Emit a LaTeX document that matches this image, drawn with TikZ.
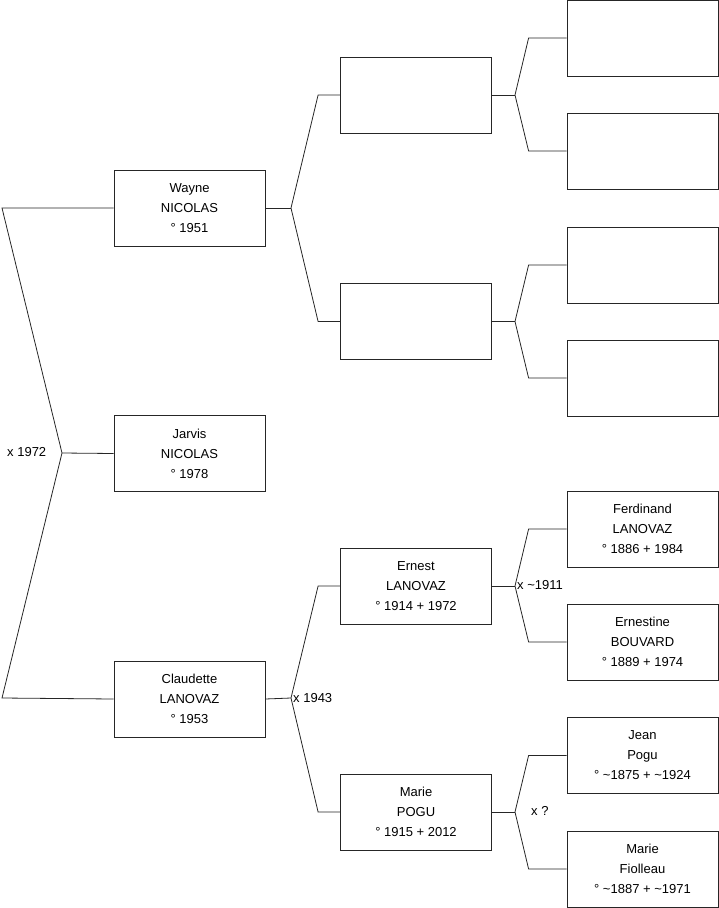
\documentclass[tikz,border=0pt]{standalone}
\usepackage{fontspec}
\setmainfont{Liberation Sans}
\usepackage{tikz}
\usetikzlibrary{calc}

\begin{document}
\begin{tikzpicture}[x=1pt,y=-1pt,
  person/.style={draw=black!85,line width=0.8pt,minimum width=151pt,minimum height=76pt,
    inner sep=0pt,align=center,font=\fontsize{13}{20}\selectfont},
  link/.style={line width=0.8pt,black!85},
  union/.style={anchor=west,inner sep=0pt,font=\fontsize{13}{14}\selectfont}]
  \useasboundingbox (0,0) rectangle (719,908);
  % generation 1
  \node[person] (wayne) at (189.5,208) {Wayne\\NICOLAS\\° 1951};
  \node[person] (jarvis) at (189.5,453.5) {Jarvis\\NICOLAS\\° 1978};
  \node[person] (claudette) at (189.5,699) {Claudette\\LANOVAZ\\° 1953};
  % generation 2
  \node[person] (fatherW) at (416,95) {};
  \node[person] (motherW) at (416,321.5) {};
  \node[person] (ernest) at (416,586) {Ernest\\LANOVAZ\\° 1914 + 1972};
  \node[person] (marie) at (416,812) {Marie\\POGU\\° 1915 + 2012};
  % generation 3
  \foreach \n/\y in {gfa/38,gfb/151,gfc/265,gfd/378}
    \node[person] (\n) at (642.5,\y) {};
  \node[person] (ferdinand) at (642.5,529) {Ferdinand\\LANOVAZ\\° 1886 + 1984};
  \node[person] (ernestine) at (642.5,642) {Ernestine\\BOUVARD\\° 1889 + 1974};
  \node[person] (jean) at (642.5,755.5) {Jean\\Pogu\\° \textasciitilde1875 + \textasciitilde1924};
  \node[person] (mariefio) at (642.5,869) {Marie\\Fiolleau\\° \textasciitilde1887 + \textasciitilde1971};
  % joints
  \coordinate (top0) at (2,208);
  \coordinate (bot0) at (2,698);
  \coordinate (j0) at (62,453);
  \coordinate (jW) at (291,208);
  \coordinate (jC) at (291,698);
  \foreach \c/\y in {jFW/95,jMW/321.5,jE/586,jM/812}
    \coordinate (\c) at (515,\y);
  % connectors
  \draw[link] (wayne.west) -- (top0) -- (j0) -- (bot0) -- (claudette.west);
  \draw[link] (j0) -- (jarvis.west);
  \draw[link] (wayne.east) -- (jW);
  \draw[link] (fatherW.west) -- ++(-22,0) -- (jW) -- ($(motherW.west)+(-22,0)$) -- (motherW.west);
  \draw[link] (claudette.east) -- (jC);
  \draw[link] (ernest.west) -- ++(-22,0) -- (jC) -- ($(marie.west)+(-22,0)$) -- (marie.west);
  \foreach \p/\j/\a/\b in {fatherW/jFW/gfa/gfb,motherW/jMW/gfc/gfd,ernest/jE/ferdinand/ernestine,marie/jM/jean/mariefio}
    {\draw[link] (\p.east) -- (\j);
     \draw[link] (\a.west) -- ++(-38,0) -- (\j) -- ($(\b.west)+(-38,0)$) -- (\b.west);}
  % unions
  \node[union] (u0) at (7,452) {x 1972};
  \node[union] (uC) at (293,698) {x 1943};
  \node[union] (uE) at (517,585) {x \textasciitilde1911};
  \node[union] (uM) at (531,811) {x ?};
\end{tikzpicture}
\end{document}
